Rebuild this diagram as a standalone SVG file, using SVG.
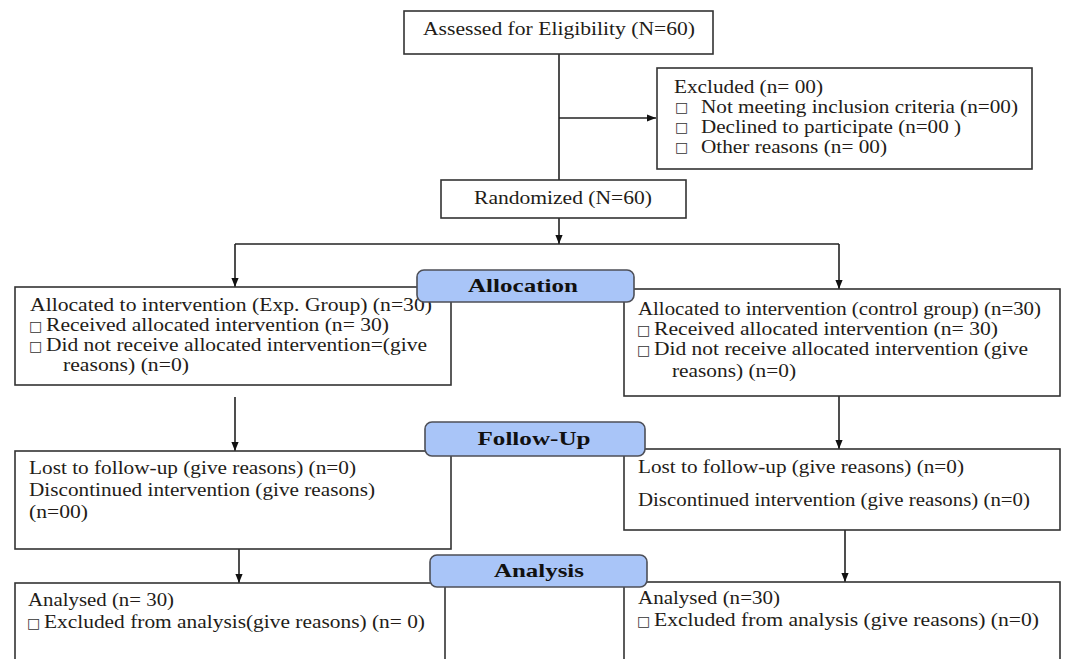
<svg xmlns="http://www.w3.org/2000/svg" width="1071" height="659" viewBox="0 0 1071 659">
<style>
.box{fill:#fff;stroke:#333;stroke-width:1.6}
.lbl{fill:#a9c5f8;stroke:#4d4f57;stroke-width:1.6}
.t{font-family:"Liberation Serif","Times New Roman",serif;font-size:18px;fill:#231c18}
.b{font-family:"Liberation Serif","Times New Roman",serif;font-size:19px;font-weight:bold;fill:#111;text-anchor:middle}
.sq{font-family:"DejaVu Sans",sans-serif;font-size:14px;fill:#333}
.c{stroke:#222;stroke-width:1.6;fill:none}
</style>
<defs>
<marker id="ah" viewBox="0 0 10 10" refX="10" refY="5" markerWidth="9" markerHeight="9" markerUnits="userSpaceOnUse" orient="auto">
<path d="M0,1 L10,5 L0,9 z" fill="#111"/>
</marker>
</defs>
<rect width="1071" height="659" fill="#fff"/>
<g id="connectors">
<line class="c" x1="559" y1="54" x2="559" y2="180"/>
<line class="c" x1="559" y1="118" x2="656" y2="118" marker-end="url(#ah)"/>
<line class="c" x1="559" y1="218" x2="559" y2="244" marker-end="url(#ah)"/>
<line class="c" x1="235" y1="244" x2="839" y2="244"/>
<line class="c" x1="235" y1="244" x2="235" y2="287" marker-end="url(#ah)"/>
<line class="c" x1="839" y1="244" x2="839" y2="289" marker-end="url(#ah)"/>
<line class="c" x1="235" y1="397" x2="235" y2="451" marker-end="url(#ah)"/>
<line class="c" x1="839" y1="396" x2="839" y2="449" marker-end="url(#ah)"/>
<line class="c" x1="239" y1="549" x2="239" y2="583" marker-end="url(#ah)"/>
<line class="c" x1="845" y1="530" x2="845" y2="582" marker-end="url(#ah)"/>
</g>
<g id="assessed">
<rect class="box" x="404" y="11" width="309" height="43"/>
<text class="t" x="423" y="35" textLength="272" lengthAdjust="spacingAndGlyphs">Assessed for Eligibility (N=60)</text>
</g>
<g id="excluded">
<rect class="box" x="657" y="68" width="375" height="101"/>
<text class="t" x="674" y="93" textLength="149" lengthAdjust="spacingAndGlyphs">Excluded (n= 00)</text>
<text class="sq" x="675" y="112">□</text>
<text class="t" x="701" y="113" textLength="317" lengthAdjust="spacingAndGlyphs">Not meeting inclusion criteria (n=00)</text>
<text class="sq" x="675" y="132">□</text>
<text class="t" x="701" y="133" textLength="260" lengthAdjust="spacingAndGlyphs">Declined to participate (n=00 )</text>
<text class="sq" x="675" y="152">□</text>
<text class="t" x="701" y="153" textLength="186" lengthAdjust="spacingAndGlyphs">Other reasons (n= 00)</text>
</g>
<g id="randomized">
<rect class="box" x="441" y="180" width="245" height="38"/>
<text class="t" x="474" y="204" textLength="178" lengthAdjust="spacingAndGlyphs">Randomized (N=60)</text>
</g>
<g id="alloc-exp">
<rect class="box" x="15" y="287" width="436" height="98"/>
<text class="t" x="30" y="311" textLength="402" lengthAdjust="spacingAndGlyphs">Allocated to intervention (Exp. Group) (n=30)</text>
<text class="sq" x="29" y="331">□</text>
<text class="t" x="46" y="331" textLength="343" lengthAdjust="spacingAndGlyphs">Received allocated intervention (n= 30)</text>
<text class="sq" x="29" y="351">□</text>
<text class="t" x="46" y="351" textLength="381" lengthAdjust="spacingAndGlyphs">Did not receive allocated intervention=(give</text>
<text class="t" x="63" y="371" textLength="126" lengthAdjust="spacingAndGlyphs">reasons) (n=0)</text>
</g>
<g id="alloc-ctrl">
<rect class="box" x="624" y="289" width="436" height="107"/>
<text class="t" x="638" y="315" textLength="403" lengthAdjust="spacingAndGlyphs">Allocated to intervention (control group) (n=30)</text>
<text class="sq" x="637" y="335">□</text>
<text class="t" x="654" y="335" textLength="344" lengthAdjust="spacingAndGlyphs">Received allocated intervention (n= 30)</text>
<text class="sq" x="637" y="355">□</text>
<text class="t" x="654" y="355" textLength="374" lengthAdjust="spacingAndGlyphs">Did not receive allocated intervention (give</text>
<text class="t" x="672" y="377" textLength="124" lengthAdjust="spacingAndGlyphs">reasons) (n=0)</text>
</g>
<g id="follow-exp">
<rect class="box" x="15" y="451" width="436" height="98"/>
<text class="t" x="29" y="474" textLength="327" lengthAdjust="spacingAndGlyphs">Lost to follow-up (give reasons) (n=0)</text>
<text class="t" x="29" y="496" textLength="346" lengthAdjust="spacingAndGlyphs">Discontinued intervention (give reasons)</text>
<text class="t" x="29" y="518" textLength="59" lengthAdjust="spacingAndGlyphs">(n=00)</text>
</g>
<g id="follow-ctrl">
<rect class="box" x="624" y="449" width="436" height="81"/>
<text class="t" x="638" y="473" textLength="326" lengthAdjust="spacingAndGlyphs">Lost to follow-up (give reasons) (n=0)</text>
<text class="t" x="638" y="506" textLength="392" lengthAdjust="spacingAndGlyphs">Discontinued intervention (give reasons) (n=0)</text>
</g>
<g id="analysis-exp">
<rect class="box" x="15" y="583" width="430" height="90"/>
<text class="t" x="28" y="606" textLength="146" lengthAdjust="spacingAndGlyphs">Analysed (n= 30)</text>
<text class="sq" x="27" y="628">□</text>
<text class="t" x="44" y="628" textLength="381" lengthAdjust="spacingAndGlyphs">Excluded from analysis(give reasons) (n= 0)</text>
</g>
<g id="analysis-ctrl">
<rect class="box" x="624" y="582" width="436" height="90"/>
<text class="t" x="638" y="604" textLength="142" lengthAdjust="spacingAndGlyphs">Analysed (n=30)</text>
<text class="sq" x="637" y="626">□</text>
<text class="t" x="654" y="626" textLength="385" lengthAdjust="spacingAndGlyphs">Excluded from analysis (give reasons) (n=0)</text>
</g>
<g id="label-allocation">
<rect class="lbl" x="417" y="270" width="217" height="32" rx="7"/>
<text class="b" x="523" y="292" textLength="110" lengthAdjust="spacingAndGlyphs">Allocation</text>
</g>
<g id="label-followup">
<rect class="lbl" x="425" y="422" width="220" height="34" rx="7"/>
<text class="b" x="534" y="445" textLength="113" lengthAdjust="spacingAndGlyphs">Follow-Up</text>
</g>
<g id="label-analysis">
<rect class="lbl" x="430" y="555" width="217" height="32" rx="7"/>
<text class="b" x="539" y="577" textLength="90" lengthAdjust="spacingAndGlyphs">Analysis</text>
</g>
</svg>
